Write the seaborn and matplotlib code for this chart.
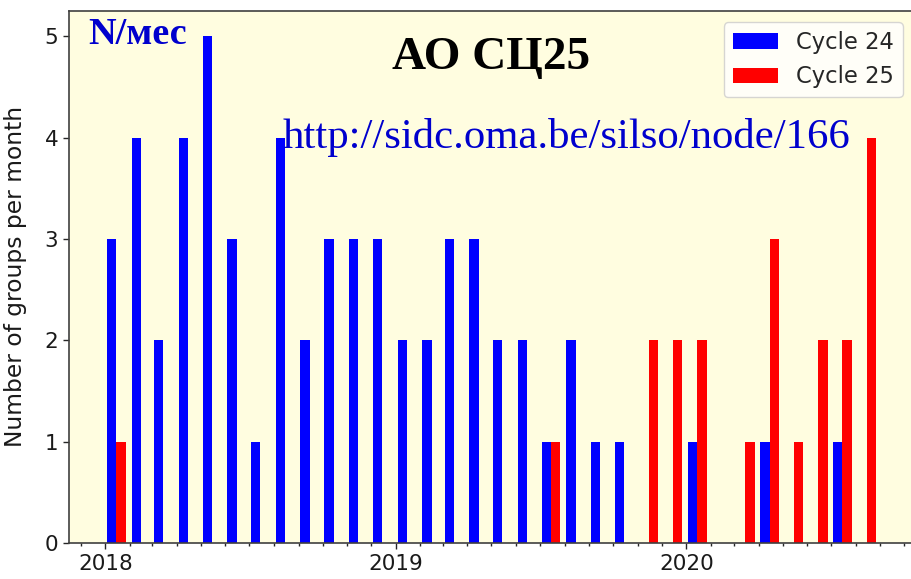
import matplotlib
matplotlib.use("Agg")
import matplotlib.dates as mdates
import matplotlib.pyplot as plt
import numpy as np
import pandas as pd
import seaborn as sns

# monthly numbers of sunspot groups, Jan 2018 .. Aug 2020
months = pd.date_range("2018-01-01", periods=32, freq="MS") + pd.Timedelta(days=14)
cycle24 = [3, 4, 2, 4, 5, 3, 1, 4, 2, 3, 3, 3,
           2, 2, 3, 3, 2, 2, 1, 2, 1, 1, 0, 0,
           1, 0, 0, 1, 0, 0, 1, 0]
cycle25 = [1, 0, 0, 0, 0, 0, 0, 0, 0, 0, 0, 0,
           0, 0, 0, 0, 0, 0, 1, 0, 0, 0, 2, 2,
           2, 0, 1, 3, 1, 2, 2, 4]
labels = ["Cycle 24", "Cycle 25"]
colors = ["#0000ff", "#ff0000"]


def main():
    t = mdates.date2num(months.to_pydatetime())
    df = pd.DataFrame({
        "t": np.concatenate([t, t]),
        "n": cycle24 + cycle25,
        "cycle": [labels[0]] * len(t) + [labels[1]] * len(t),
    })

    sns.set_style("ticks")
    plt.rcParams["font.family"] = ["DejaVu Sans"]

    fig = plt.figure(figsize=(9.12, 5.79), dpi=100)
    ax = fig.add_axes([0.0762, 0.0622, 0.925, 0.919])
    ax.set_facecolor("#fffde0")

    sns.barplot(
        data=df, x="t", y="n", hue="cycle", hue_order=labels,
        palette=colors, native_scale=True, width=0.84, dodge=True,
        saturation=1, errorbar=None, linewidth=0, ax=ax,
    )

    ax.set_xlim(mdates.date2num(pd.Timestamp("2017-11-17")),
                mdates.date2num(pd.Timestamp("2020-10-12")))
    ax.set_ylim(0, 5.25)
    ax.xaxis.set_major_locator(mdates.YearLocator())
    ax.xaxis.set_minor_locator(mdates.MonthLocator())
    ax.xaxis.set_major_formatter(mdates.DateFormatter("%Y"))
    ax.set_yticks(range(6))
    ax.tick_params(axis="both", which="major", labelsize=15.5, length=4.5,
                   width=1, color="0.15", labelcolor="0.1")
    ax.tick_params(axis="x", which="minor", length=2.5, width=1, color="0.15")
    ax.set_xlabel("")
    ax.set_ylabel("Number of groups per month", fontsize=16.8, color="0.1")
    ax.yaxis.set_label_coords(-0.050, 0.5)
    for s in ax.spines.values():
        s.set_color("0.25")
        s.set_linewidth(1.2)

    sns.move_legend(ax, "upper right", title=None, fontsize=16.3,
                    frameon=True, bbox_to_anchor=(0.988, 0.979),
                    borderaxespad=0, borderpad=0.4, labelspacing=0.5,
                    handlelength=2.0, handletextpad=0.8)

    ax.text(0.022, 0.938, "N/мес", transform=ax.transAxes,
            family="Liberation Serif", fontweight="bold", fontsize=27.5,
            color="#0000cd", ha="left", va="baseline")
    ax.text(0.500, 0.891, "АО СЦ25", transform=ax.transAxes,
            family="Liberation Serif", fontweight="bold", fontsize=34,
            color="black", ha="center", va="baseline")
    ax.text(0.589, 0.742, "http://sidc.oma.be/silso/node/166",
            transform=ax.transAxes, family="Liberation Serif", fontsize=30.8,
            color="#0000cd", ha="center", va="baseline")

    fig.savefig("out.png", dpi=100)


if __name__ == "__main__":
    main()
